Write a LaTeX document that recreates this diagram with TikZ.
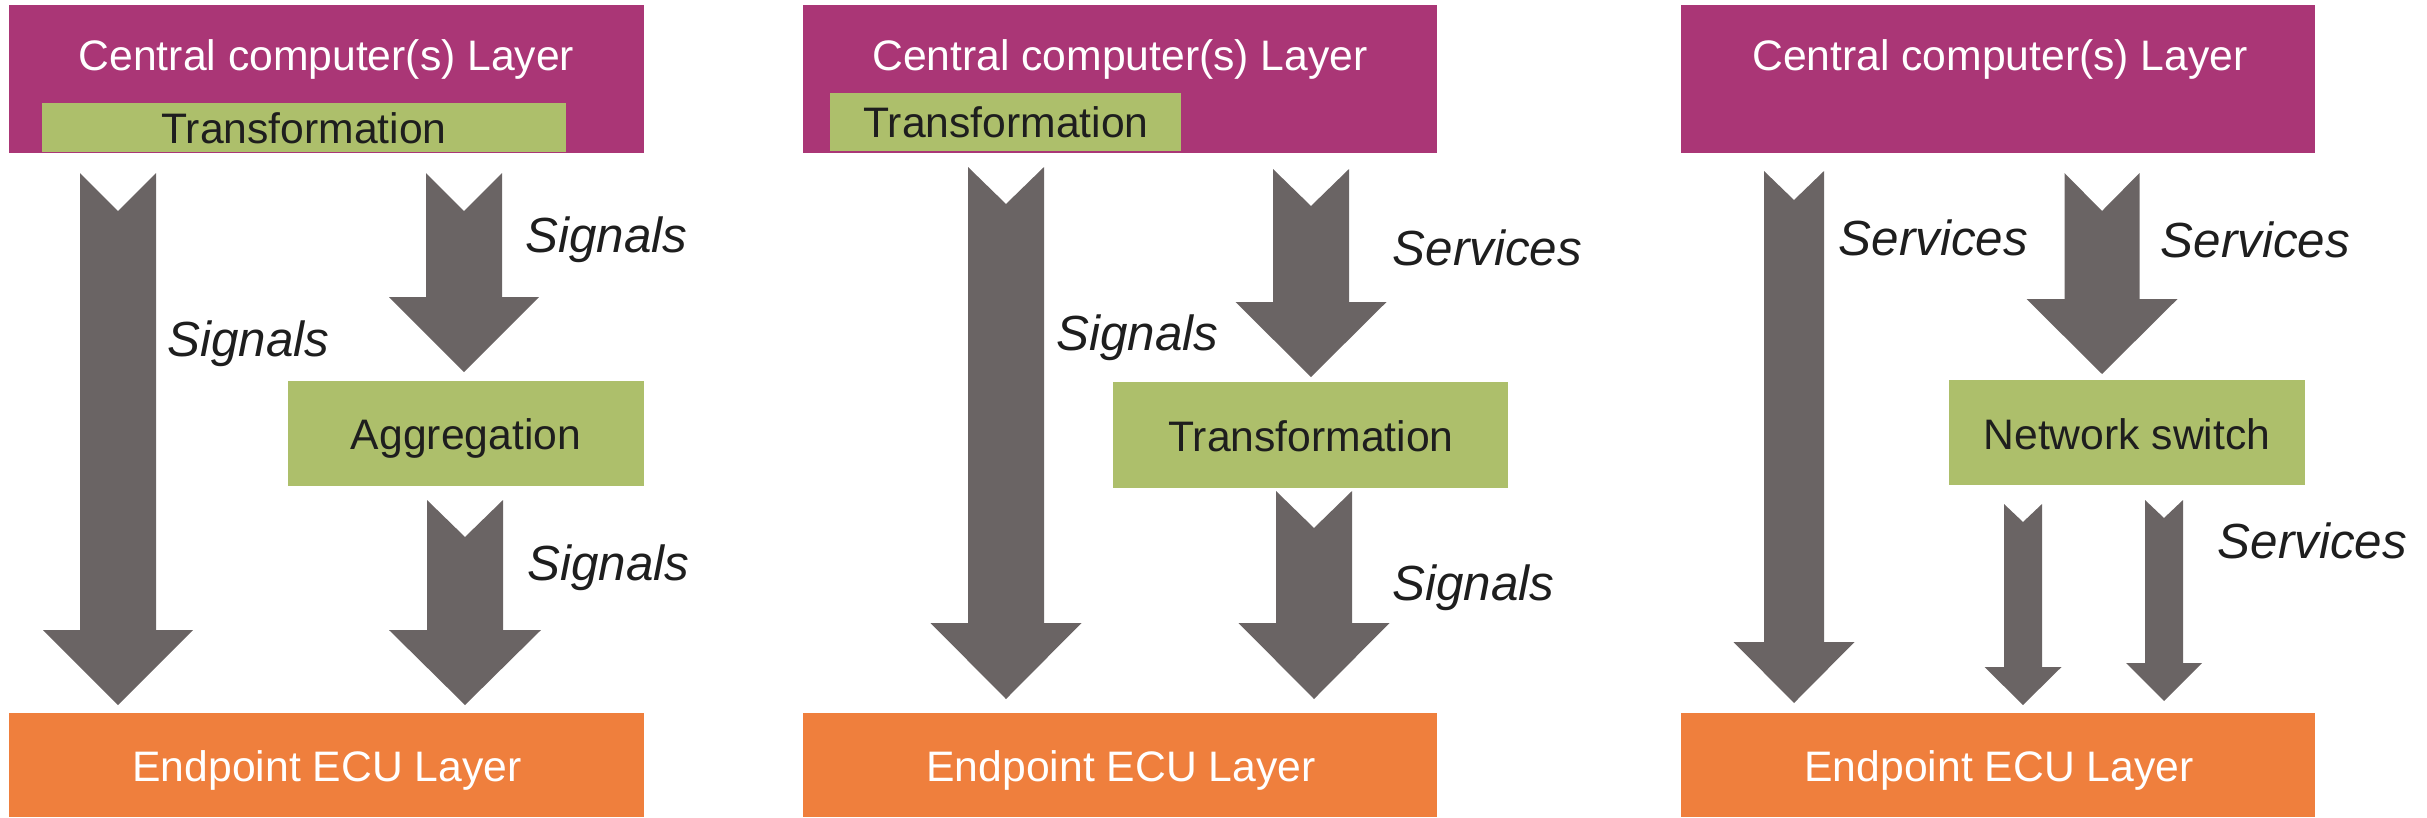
\documentclass[tikz,border=0pt]{standalone}
\usepackage{fontspec}
\setmainfont{Liberation Sans}
\usetikzlibrary{fit}

\definecolor{cpurple}{RGB}{170,54,118}
\definecolor{cgreen}{RGB}{173,191,107}
\definecolor{cgray}{RGB}{106,100,100}
\definecolor{corange}{RGB}{239,127,61}
\definecolor{cdark}{RGB}{30,30,30}

% Block arrow with notched tail:
% #1 centre x, #2 tail y, #3 notch y, #4 shaft half width,
% #5 head base y, #6 head half width, #7 tip y
\newcommand{\BlkArrow}[7]{%
  \fill[cgray] (#1-#4,#2) -- (#1,#3) -- (#1+#4,#2) -- (#1+#4,#5)
    -- (#1+#6,#5) -- (#1,#7) -- (#1-#6,#5) -- (#1-#4,#5) -- cycle;}

\tikzset{
  centralbox/.style={fill=cpurple, draw=none, inner sep=0pt},
  funcbox/.style={fill=cgreen, draw=none, inner sep=0pt},
  ecubox/.style={fill=corange, draw=none, inner sep=0pt},
  whitetext/.style={text=white, inner sep=0pt, anchor=base,
    font=\fontsize{12.8}{14}\selectfont},
  darktext/.style={text=cdark, inner sep=0pt, anchor=base,
    font=\fontsize{12.8}{14}\selectfont},
  flowlabel/.style={text=cdark, inner sep=0pt, anchor=base west,
    font=\fontsize{14.8}{17}\selectfont\itshape},
}

\begin{document}
\begin{tikzpicture}[x=0.3pt, y=-0.3pt]
\useasboundingbox (0,0) rectangle (2427,817);

% ---------------- Variant 1: signals with aggregation ----------------
\node[centralbox, fit={(9,5) (644,153)}] (cc1) {};
\node[whitetext] (cc1t) at (326.5,70) {Central computer(s) Layer};
\node[funcbox, fit={(42,103) (566,152)}] (tr1) {};
\node[darktext] (tr1t) at (304,143) {Transformation};
\node[funcbox, fit={(288,381) (644,486)}] (agg1) {};
\node[darktext] (agg1t) at (466,449) {Aggregation};
\node[ecubox, fit={(9,713) (644,817)}] (ecu1) {};
\node[whitetext] (ecu1t) at (327,781) {Endpoint ECU Layer};

\BlkArrow{118}{173}{211}{38}{630}{75}{705}
\BlkArrow{464}{173}{211}{38}{297}{75}{372}
\BlkArrow{465}{500}{537}{38}{630}{76}{705}

\node[flowlabel] (l1a) at (525,252) {Signals};
\node[flowlabel] (l1b) at (167,356) {Signals};
\node[flowlabel] (l1c) at (527,580) {Signals};

% ---------------- Variant 2: services transformed to signals ----------------
\node[centralbox, fit={(803,5) (1437,153)}] (cc2) {};
\node[whitetext] (cc2t) at (1120,70) {Central computer(s) Layer};
\node[funcbox, fit={(830,93) (1181,151)}] (tr2) {};
\node[darktext] (tr2t) at (1006,137) {Transformation};
\node[funcbox, fit={(1113,382) (1508,488)}] (tr2b) {};
\node[darktext] (tr2bt) at (1311,451) {Transformation};
\node[ecubox, fit={(803,713) (1437,817)}] (ecu2) {};
\node[whitetext] (ecu2t) at (1121,781) {Endpoint ECU Layer};

\BlkArrow{1006}{167}{204}{38}{623}{75.5}{699}
\BlkArrow{1311}{169}{206}{38}{302}{75.5}{377}
\BlkArrow{1314}{491}{528}{38}{623}{75.5}{699}

\node[flowlabel] (l2a) at (1392,265) {Services};
\node[flowlabel] (l2b) at (1056,350) {Signals};
\node[flowlabel] (l2c) at (1392,600) {Signals};

% ---------------- Variant 3: services through a network switch ----------------
\node[centralbox, fit={(1681,5) (2315,153)}] (cc3) {};
\node[whitetext] (cc3t) at (2000,70) {Central computer(s) Layer};
\node[funcbox, fit={(1949,380) (2305,485)}] (sw3) {};
\node[darktext] (sw3t) at (2127,449) {Network switch};
\node[ecubox, fit={(1681,713) (2315,817)}] (ecu3) {};
\node[whitetext] (ecu3t) at (1999,781) {Endpoint ECU Layer};

\BlkArrow{1794}{171}{200}{30}{642}{60.5}{703}
\BlkArrow{2102}{173}{211}{37.5}{299}{75.5}{374}
\BlkArrow{2023}{504}{522}{19}{667}{38.5}{705}
\BlkArrow{2164}{500}{518}{19}{663}{38}{701}

\node[flowlabel] (l3a) at (1838,255) {Services};
\node[flowlabel] (l3b) at (2160,257) {Services};
\node[flowlabel] (l3c) at (2217,558) {Services};
\end{tikzpicture}
\end{document}
